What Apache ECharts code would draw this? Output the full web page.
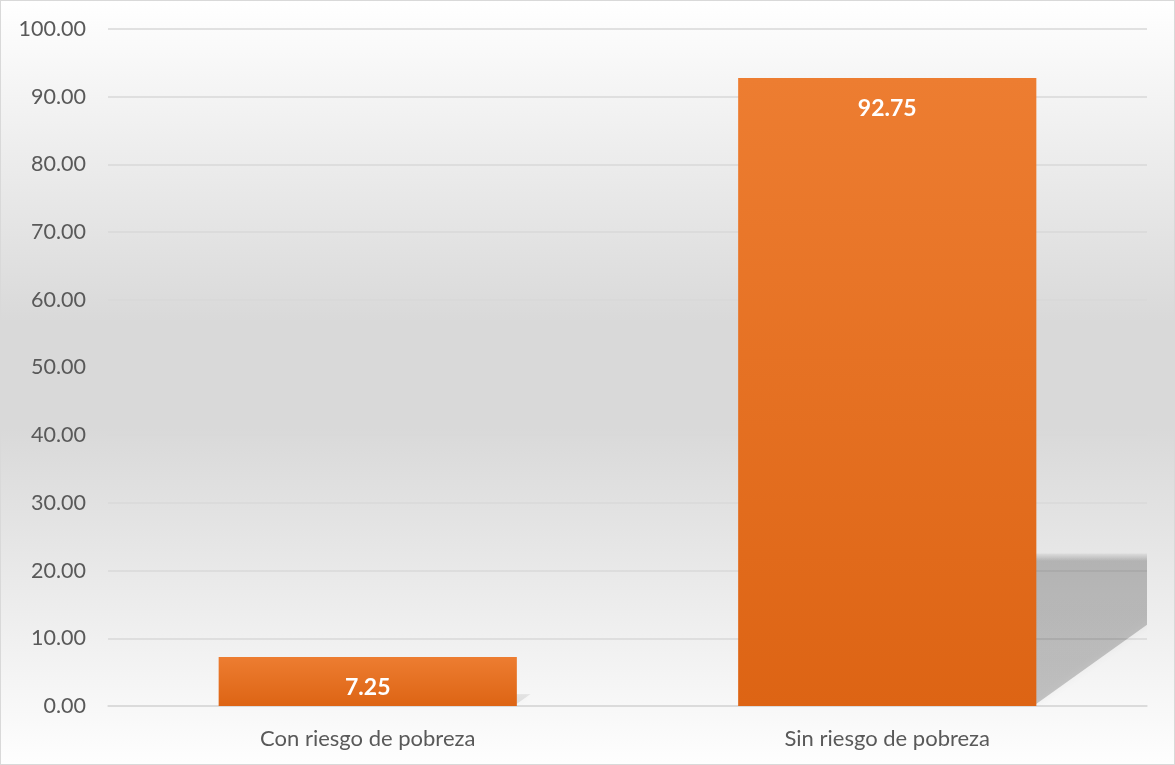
<!DOCTYPE html>
<html>
<head>
<meta charset="utf-8">
<title>Riesgo de pobreza</title>
<script src="https://cdn.jsdelivr.net/npm/echarts@6/dist/echarts.min.js"></script>
<style>
  html, body { margin: 0; padding: 0; background: #ffffff; }
  #chart { width: 1173px; height: 763px; border: 1px solid #d9d9d9; }
</style>
</head>
<body>
<div id="chart"></div>
<script>
// Porcentaje de hogares según riesgo de pobreza
const categories = ['Con riesgo de pobreza', 'Sin riesgo de pobreza'];
const values = [7.25, 92.75];
const yMin = 0;
const yMax = 100;
const yStep = 10;

const BAR_WIDTH_RATIO = 0.574;
const FONT = 'Lato, "Open Sans", "Noto Sans", sans-serif';

const chart = echarts.init(document.getElementById('chart'), null, { renderer: 'canvas' });

// Perspective shadow cast to the right of each bar, as a skewed quad
function renderShadow(params, api) {
  const cat = api.value(0);
  const val = api.value(1);
  const top = api.coord([cat, val]);
  const base = api.coord([cat, 0]);
  const bw = api.size([1, 0])[0] * BAR_WIDTH_RATIO;
  const x0 = base[0] - bw / 2;
  const x1 = base[0] + bw / 2;
  const H = base[1] - top[1];
  const h = H * 0.243;
  const shift = h * 1.4;
  const y0 = base[1];
  const small = h < 40;
  return {
    type: 'polygon',
    shape: {
      points: [[x0, y0], [x1 - 3, y0], [x1 + shift - 3, y0 - h], [x0 + shift, y0 - h]]
    },
    style: {
      fill: new echarts.graphic.LinearGradient(0, 0, 0, 1, [
        { offset: 0, color: 'rgba(0,0,0,0.04)' },
        { offset: 0.05, color: small ? 'rgba(0,0,0,0.08)' : 'rgba(0,0,0,0.2)' },
        { offset: 1, color: small ? 'rgba(0,0,0,0.1)' : 'rgba(0,0,0,0.2)' }
      ]),
      shadowBlur: small ? 10 : 7,
      shadowColor: small ? 'rgba(0,0,0,0.12)' : 'rgba(0,0,0,0.18)'
    }
  };
}

chart.setOption({
  backgroundColor: new echarts.graphic.LinearGradient(0, 0, 0, 1, [
    { offset: 0, color: '#ffffff' },
    { offset: 0.42, color: '#d9d9d9' },
    { offset: 0.56, color: '#d9d9d9' },
    { offset: 1, color: '#fefefe' }
  ]),
  animation: false,
  grid: { left: 107, right: 27, top: 28, bottom: 58, containLabel: false },
  xAxis: {
    type: 'category',
    data: categories,
    axisLine: { show: true, lineStyle: { color: '#d9d9d9', width: 1.5 } },
    axisTick: { show: false },
    axisLabel: { color: '#595959', fontSize: 22, fontFamily: FONT, margin: 22 }
  },
  yAxis: {
    type: 'value',
    min: yMin,
    max: yMax,
    interval: yStep,
    axisLine: { show: false },
    axisTick: { show: false },
    splitLine: { lineStyle: { color: '#d9d9d9', width: 1.5 } },
    axisLabel: {
      color: '#595959', fontSize: 21.5, fontFamily: FONT, margin: 22,
      formatter: v => v.toFixed(2)
    }
  },
  series: [
    {
      type: 'custom',
      z: 1,
      clip: true,
      silent: true,
      renderItem: renderShadow,
      data: values.map((v, i) => [i, v])
    },
    {
      type: 'bar',
      z: 3,
      data: values,
      barWidth: (BAR_WIDTH_RATIO * 100) + '%',
      itemStyle: {
        color: new echarts.graphic.LinearGradient(0, 0, 0, 1, [
          { offset: 0, color: '#ed7d31' },
          { offset: 1, color: '#dd6414' }
        ])
      },
      label: {
        show: true,
        position: 'insideTop',
        distance: 19,
        color: '#ffffff',
        fontWeight: 'bold',
        fontSize: 23,
        fontFamily: FONT,
        formatter: p => p.value.toFixed(2)
      }
    }
  ]
});
</script>
</body>
</html>
